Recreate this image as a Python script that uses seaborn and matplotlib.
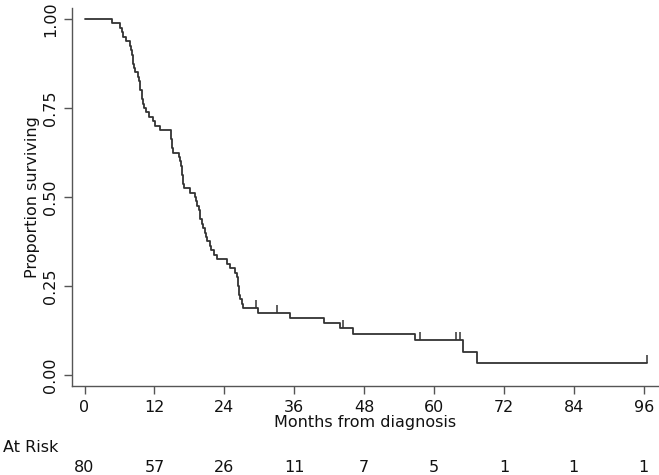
import matplotlib
matplotlib.use("Agg")
import matplotlib.pyplot as plt
import seaborn as sns
import numpy as np
import pandas as pd

# event times (months), one entry per death
event_months = [4.8, 6.1, 6.4, 6.6, 7.2, 7.8, 8.0, 8.2, 8.3, 8.4, 8.5, 8.6,
                9.2, 9.4, 9.5, 9.6, 9.8, 9.9, 10.1, 10.2, 10.6, 11.0, 11.7,
                12.1, 12.9, 14.8, 14.9, 15.0, 15.1, 15.2, 16.2, 16.4, 16.6,
                16.7, 16.8, 16.9, 16.9, 17.0, 18.1, 19.0, 19.2, 19.3, 19.6,
                19.8, 19.9, 20.2, 20.4, 20.7, 20.9, 21.0, 21.5, 21.8, 22.3,
                22.7, 24.4, 25.0, 25.8, 26.1, 26.3, 26.4, 26.5, 26.6, 26.7,
                27.0, 27.2, 29.7, 35.2, 41.2, 43.9, 46.1, 56.8, 64.9, 67.4]
censor_months = [29.5, 33.0, 44.3, 57.6, 63.7, 64.5, 96.6]

risk_months = [0, 12, 24, 36, 48, 60, 72, 84, 96]
at_risk = [80, 57, 26, 11, 7, 5, 1, 1, 1]
y_ticks = [0.0, 0.25, 0.5, 0.75, 1.0]


def kaplan_meier(events, censors):
    times = sorted(set(events))
    n = len(events) + len(censors)
    ev = np.array(events)
    ce = np.array(censors)
    s = 1.0
    xs, ys = [0.0], [1.0]
    for t in times:
        n_risk = n - np.sum(ev < t) - np.sum(ce < t)
        d = np.sum(ev == t)
        s *= 1 - d / n_risk
        xs.append(t)
        ys.append(s)
    xs.append(max(censors + events))
    ys.append(s)
    return pd.DataFrame({'month': xs, 'surv': ys})


km = kaplan_meier(event_months, censor_months)


def surv_at(t):
    return km.loc[km['month'] <= t, 'surv'].iloc[-1]


cens = pd.DataFrame({'month': censor_months,
                     'surv': [surv_at(t) for t in censor_months]})

sns.set_theme(style='ticks')
plt.rcParams['font.family'] = ['DejaVu Sans']
fs = 11.5
line_col = '#333333'

fig = plt.figure(figsize=(6.59, 4.75), dpi=100)
ax = fig.add_axes([72 / 659, 89 / 475, 587 / 659, 378 / 475])

sns.lineplot(data=km, x='month', y='surv', drawstyle='steps-post',
             estimator=None, color=line_col, linewidth=1.3, ax=ax)
ax.plot(cens['month'], cens['surv'], linestyle='none', marker=2,
        markersize=6, markeredgewidth=1.1, color=line_col)

ax.set_xlim(-2.15, 98.63)
ax.set_ylim(-0.031, 1.031)
ax.set_xticks(risk_months)
ax.set_yticks(y_ticks)
ax.set_yticklabels([f'{v:.2f}' for v in y_ticks], rotation=90, va='center')
ax.tick_params(axis='both', labelsize=fs, length=6, width=1.0,
               color='#555555', labelcolor='#111111', pad=4)
for side in ['top', 'right']:
    ax.spines[side].set_visible(False)
for side in ['left', 'bottom']:
    ax.spines[side].set_color('#555555')
    ax.spines[side].set_linewidth(1.0)

ax.set_xlabel('Months from diagnosis', fontsize=fs, labelpad=0, color='#111111')
ax.set_ylabel('Proportion surviving', fontsize=fs, labelpad=2, color='#111111')

fig.text(3 / 659, 1 - 447 / 475, 'At Risk', fontsize=fs, ha='left',
         va='center', color='#111111')
for m, n in zip(risk_months, at_risk):
    ax.text(m, -0.2165, str(n), transform=ax.get_xaxis_transform(),
            fontsize=fs, ha='center', va='center', color='#111111')

fig.savefig('out.png', dpi=100)
